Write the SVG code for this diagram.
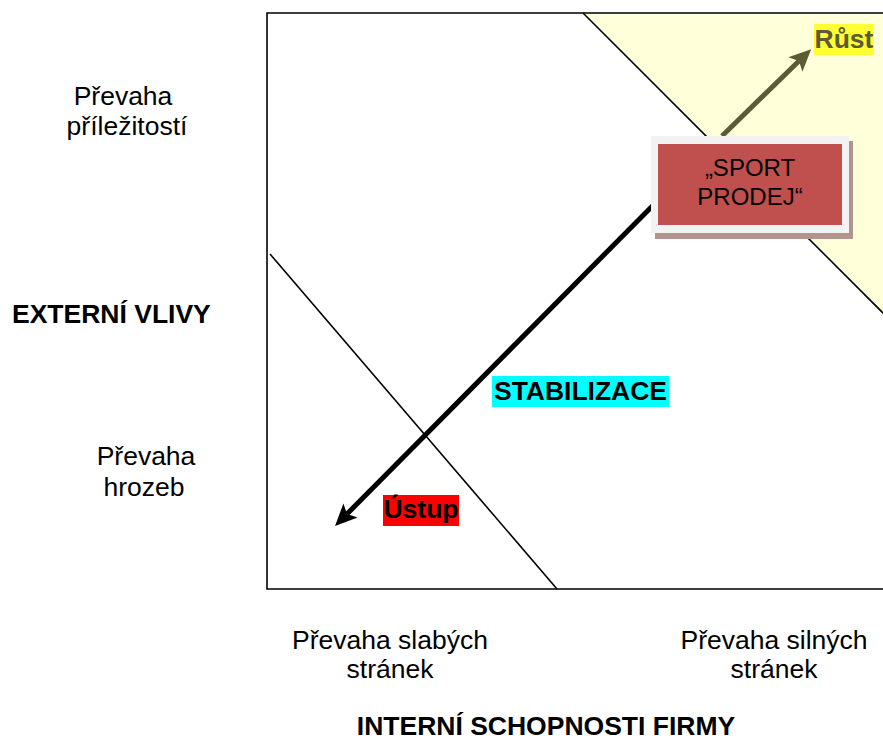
<svg xmlns="http://www.w3.org/2000/svg" width="883" height="745" viewBox="0 0 883 745">
  <style>
    text { font-family: "Liberation Sans", Arial, sans-serif; fill: #000; }
    .lbl { font-size: 26.5px; text-anchor: middle; }
    .bold { font-size: 26.5px; font-weight: bold; }
    .edge { fill: none; stroke: #000; stroke-width: 1.6; }
  </style>
  <defs>
    <marker id="headBlack" markerUnits="userSpaceOnUse" viewBox="0 0 22 20" markerWidth="22" markerHeight="20" refX="5" refY="10" orient="auto">
      <path d="M0,0 L22,10 L0,20 L5,10 z" fill="#000"/>
    </marker>
    <marker id="headOlive" markerUnits="userSpaceOnUse" viewBox="0 0 22 20" markerWidth="22" markerHeight="20" refX="5" refY="10" orient="auto">
      <path d="M0,0 L22,10 L0,20 L5,10 z" fill="#5b5b36"/>
    </marker>
  </defs>

  <rect x="0" y="0" width="883" height="745" fill="#fff"/>

  <!-- growth zone (upper right) -->
  <polygon points="583,13 883,313 883,13" fill="#ffffd9"/>

  <!-- frame of the matrix and dividing diagonals -->
  <g id="matrix">
    <path class="edge" d="M890,13 H267 V589 H890" stroke-width="2"/>
    <line class="edge" x1="583" y1="13" x2="890" y2="320"/>
    <line class="edge" x1="270" y1="254" x2="557" y2="589"/>
  </g>

  <!-- strategy arrows -->
  <g id="connectors">
    <line x1="700" y1="158" x2="347" y2="514" stroke="#000" stroke-width="5" marker-end="url(#headBlack)"/>
    <line x1="722" y1="136" x2="799" y2="61" stroke="#5b5b36" stroke-width="5" marker-end="url(#headOlive)"/>
  </g>

  <!-- current position -->
  <g id="sport-prodej">
    <rect x="655" y="141" width="198" height="98" fill="#b3938d"/>
    <rect x="651" y="136" width="198" height="97" fill="#f2f2f2"/>
    <rect x="658" y="144" width="184" height="81" fill="#c0504d"/>
    <text x="750" y="176" font-size="24" text-anchor="middle">„SPORT</text>
    <text x="750" y="205" font-size="24" text-anchor="middle">PRODEJ“</text>
  </g>

  <!-- strategy labels -->
  <g id="rust">
    <rect x="814" y="24" width="60" height="31" fill="#ffff33"/>
    <text class="bold" x="844" y="48" text-anchor="middle" style="fill:#5b5b36">Růst</text>
  </g>
  <g id="stabilizace">
    <rect x="492" y="376" width="177" height="31" fill="#00ffff"/>
    <text class="bold" x="580.5" y="400" text-anchor="middle" textLength="173" lengthAdjust="spacingAndGlyphs">STABILIZACE</text>
  </g>
  <g id="ustup">
    <rect x="383" y="495" width="76" height="31" fill="#ff0000"/>
    <text class="bold" x="421" y="518" text-anchor="middle">Ústup</text>
  </g>

  <!-- axis labels -->
  <g id="y-axis">
    <text class="lbl" x="123" y="105">Převaha</text>
    <text class="lbl" x="127" y="135">příležitostí</text>
    <text class="bold" x="12" y="323">EXTERNÍ VLIVY</text>
    <text class="lbl" x="146" y="465">Převaha</text>
    <text class="lbl" x="144" y="496">hrozeb</text>
  </g>
  <g id="x-axis">
    <text class="lbl" x="390" y="649">Převaha slabých</text>
    <text class="lbl" x="390" y="678">stránek</text>
    <text class="lbl" x="774" y="649">Převaha silných</text>
    <text class="lbl" x="774" y="678">stránek</text>
    <text class="bold" x="546" y="735" text-anchor="middle">INTERNÍ SCHOPNOSTI FIRMY</text>
  </g>
</svg>
